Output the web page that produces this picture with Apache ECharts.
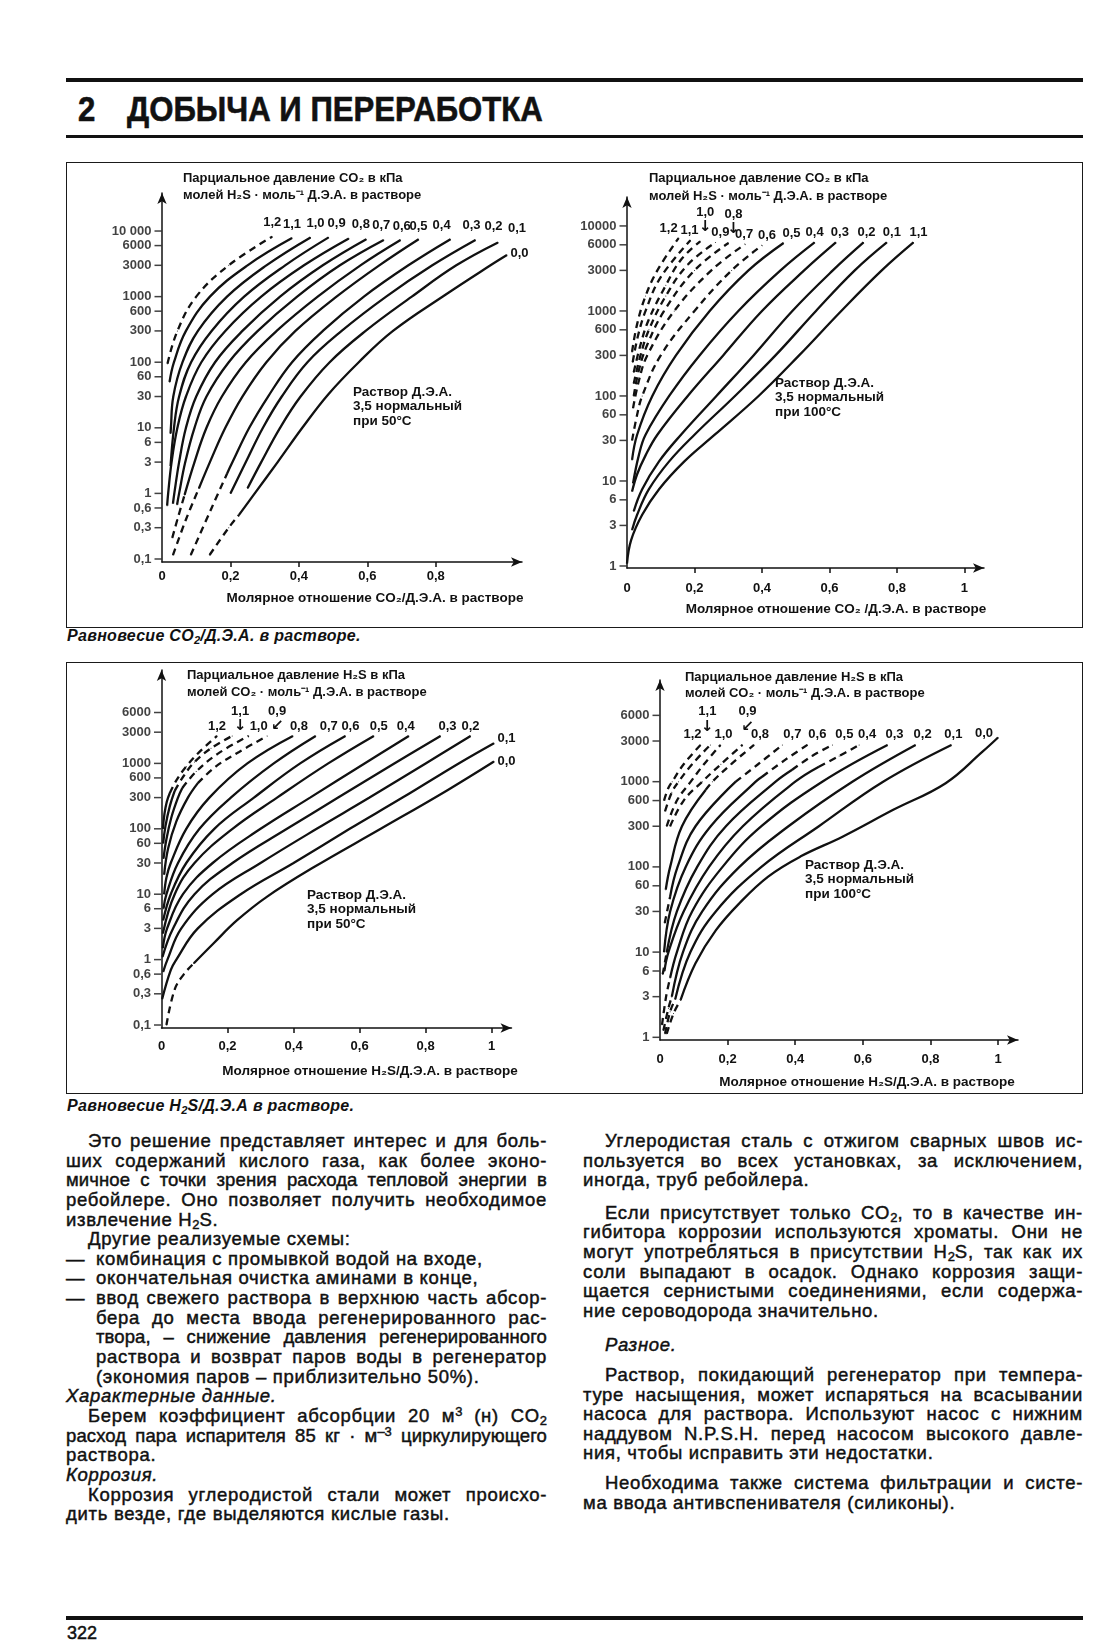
<!DOCTYPE html>
<html lang="ru">
<head>
<meta charset="utf-8">
<title>Равновесие CO2/Д.Э.А. и H2S/Д.Э.А. в растворе</title>
<script src="https://cdn.jsdelivr.net/npm/echarts@6.0.0/dist/echarts.min.js"></script>
<style>
html,body{margin:0;padding:0;background:#fff;}
#page{position:relative;width:1120px;height:1646px;overflow:hidden;background:#fff;color:#111;font-family:"Liberation Sans",Arial,Helvetica,sans-serif;}
.rule{position:absolute;left:66px;width:1017px;background:#111;}
.frame{position:absolute;left:66px;width:1017px;border:1.5px solid #1a1a1a;box-sizing:border-box;}
.hd{position:absolute;top:90px;font-weight:bold;font-size:35px;line-height:38px;transform:scaleX(0.89);transform-origin:0 0;white-space:nowrap;-webkit-text-stroke:0.6px #111;}
.cap{position:absolute;left:67px;font-weight:bold;font-style:italic;font-size:16px;letter-spacing:0.3px;line-height:16px;white-space:nowrap;}
.col{position:absolute;top:1131px;font-size:18.5px;letter-spacing:0.7px;line-height:19.65px;-webkit-text-stroke:0.45px #111;}
.col > div{height:19.65px;overflow:visible;}
.j{text-align:justify;text-align-last:justify;}
.i{padding-left:22px;}
.h{padding-left:30px;}
.it{font-style:italic;}
.tight{letter-spacing:0.1px;}
.dash{display:inline-block;width:30px;letter-spacing:0;}
sub{font-size:0.7em;vertical-align:-0.25em;line-height:0;letter-spacing:0;}
sup{font-size:0.7em;vertical-align:0.5em;line-height:0;letter-spacing:0;}
.pg{position:absolute;left:67px;top:1624px;font-size:18px;line-height:18px;-webkit-text-stroke:0.5px #111;}
#chart{position:absolute;left:0;top:0;width:1120px;height:1646px;}
</style>
</head>
<body>
<div id="page">
  <div class="rule" style="top:78px;height:4px;"></div>
  <div class="hd" style="left:78px;">2</div>
  <div class="hd" style="left:127px;">ДОБЫЧА И ПЕРЕРАБОТКА</div>
  <div class="rule" style="top:135px;height:3px;"></div>

  <div class="frame" style="top:162px;height:466px;"></div>
  <div class="cap" style="top:628px;">Равновесие CO<sub>2</sub>/Д.Э.А. в растворе.</div>
  <div class="frame" style="top:662px;height:432px;"></div>
  <div class="cap" style="top:1098px;">Равновесие H<sub>2</sub>S/Д.Э.А в растворе.</div>

  <div class="col" style="left:66px;width:481px;">
    <div class="j i">Это решение представляет интерес и для боль-</div>
    <div class="j">ших содержаний кислого газа, как более эконо-</div>
    <div class="j tight">мичное с точки зрения расхода тепловой энергии в</div>
    <div class="j">ребойлере. Оно позволяет получить необходимое</div>
    <div>извлечение H<sub>2</sub>S.</div>
    <div class="i">Другие реализуемые схемы:</div>
    <div><span class="dash">—</span>комбинация с промывкой водой на входе,</div>
    <div><span class="dash">—</span>окончательная очистка аминами в конце,</div>
    <div class="j"><span class="dash">—</span>ввод свежего раствора в верхнюю часть абсор-</div>
    <div class="j h">бера до места ввода регенерированного рас-</div>
    <div class="j h tight">твора, – снижение давления регенерированного</div>
    <div class="j h">раствора и возврат паров воды в регенератор</div>
    <div class="h">(экономия паров – приблизительно 50%).</div>
    <div class="it">Характерные данные.</div>
    <div class="j i">Берем коэффициент абсорбции 20 м<sup>3</sup> (н) CO<sub>2</sub></div>
    <div class="j tight">расход пара испарителя 85 кг · м<sup>–3</sup> циркулирующего</div>
    <div>раствора.</div>
    <div class="it">Коррозия.</div>
    <div class="j i">Коррозия углеродистой стали может происхо-</div>
    <div>дить везде, где выделяются кислые газы.</div>
  </div>

  <div class="col" style="left:583px;width:500px;">
    <div class="j i">Углеродистая сталь с отжигом сварных швов ис-</div>
    <div class="j">пользуется во всех установках, за исключением,</div>
    <div>иногда, труб ребойлера.</div>
    <div class="j i" style="margin-top:12.8px;">Если присутствует только CO<sub>2</sub>, то в качестве ин-</div>
    <div class="j">гибитора коррозии используются хроматы. Они не</div>
    <div class="j">могут употребляться в присутствии H<sub>2</sub>S, так как их</div>
    <div class="j">соли выпадают в осадок. Однако коррозия защи-</div>
    <div class="j">щается сернистыми соединениями, если содержа-</div>
    <div>ние сероводорода значительно.</div>
    <div class="it i" style="margin-top:14px;">Разное.</div>
    <div class="j i" style="margin-top:10.7px;">Раствор, покидающий регенератор при темпера-</div>
    <div class="j">туре насыщения, может испаряться на всасывании</div>
    <div class="j">насоса для раствора. Используют насос с нижним</div>
    <div class="j">наддувом N.P.S.H. перед насосом высокого давле-</div>
    <div>ния, чтобы исправить эти недостатки.</div>
    <div class="j i" style="margin-top:10.4px;">Необходима также система фильтрации и систе-</div>
    <div>ма ввода антивспенивателя (силиконы).</div>
  </div>

  <div class="rule" style="top:1616px;height:4px;"></div>
  <div class="pg">322</div>

  <div id="chart"></div>
</div>

<script>
// ---------------- DATA ----------------
// Curve parameter labels (moles of the other acid gas per mole of DEA)
const tlCurveLabels = ['1,2','1,1','1,0','0,9','0,8','0,7','0,6','0,5','0,4','0,3','0,2','0,1','0,0'];
const trCurveLabels = ['1,2','1,1','1,0','0,9','0,8','0,7','0,6','0,5','0,4','0,3','0,2','0,1','1,1'];
const blCurveLabels = ['1,2','1,1','1,0','0,9','0,8','0,7','0,6','0,5','0,4','0,3','0,2','0,1','0,0'];
const brCurveLabels = ['1,2','1,1','1,0','0,9','0,8','0,7','0,6','0,5','0,4','0,3','0,2','0,1','0,0'];

// Tick values
const tlYTicks = [0.1,0.3,0.6,1,3,6,10,30,60,100,300,600,1000,3000,6000,10000];
const trYTicks = [1,3,6,10,30,60,100,300,600,1000,3000,6000,10000];
const blYTicks = [0.1,0.3,0.6,1,3,6,10,30,60,100,300,600,1000,3000,6000];
const brYTicks = [1,3,6,10,30,60,100,300,600,1000,3000,6000];
const tlXTicks = [0,0.2,0.4,0.6,0.8];
const trXTicks = [0,0.2,0.4,0.6,0.8,1];
const blXTicks = [0,0.2,0.4,0.6,0.8,1];
const brXTicks = [0,0.2,0.4,0.6,0.8,1];

// Top-left: CO2 partial pressure (kPa) vs CO2/DEA, 50 °C  — [ratio, kPa]
const tlSolid = [
  null,
  [[0.022,50],[0.035,100],[0.07,300],[0.14,1000],[0.25,3000],[0.38,7800]],
  [[0.025,8.2],[0.026,10],[0.033,30],[0.06,100],[0.105,300],[0.19,1000],[0.305,3000],[0.434,8000]],
  [[0.025,2.6],[0.035,10],[0.05,30],[0.085,100],[0.145,300],[0.24,1000],[0.36,3000],[0.487,8000]],
  [[0.015,0.65],[0.018,1],[0.028,3],[0.045,10],[0.07,30],[0.115,100],[0.185,300],[0.29,1000],[0.415,3000],[0.546,7700]],
  [[0.032,0.7],[0.036,1],[0.05,3],[0.07,10],[0.1,30],[0.155,100],[0.235,300],[0.345,1000],[0.47,3000],[0.597,7500]],
  [[0.044,0.67],[0.05,1],[0.068,3],[0.095,10],[0.13,30],[0.195,100],[0.28,300],[0.395,1000],[0.52,3000],[0.648,7300]],
  [[0.066,0.95],[0.095,3],[0.13,10],[0.175,30],[0.245,100],[0.335,300],[0.455,1000],[0.58,3000],[0.697,7300]],
  [[0.108,1.2],[0.14,3],[0.185,10],[0.235,30],[0.305,100],[0.39,300],[0.51,1000],[0.635,3000],[0.75,7500]],
  [[0.19,2],[0.206,3],[0.255,10],[0.31,30],[0.38,100],[0.47,300],[0.59,1000],[0.72,3000],[0.843,7500]],
  [[0.2,1],[0.245,3],[0.295,10],[0.35,30],[0.425,100],[0.525,300],[0.655,1000],[0.79,3000],[0.916,7300]],
  [[0.25,1.2],[0.29,3],[0.345,10],[0.405,30],[0.49,100],[0.595,300],[0.73,1000],[0.86,3000],[0.982,6700]],
  [[0.225,0.47],[0.271,1],[0.338,3],[0.41,10],[0.485,32],[0.575,100],[0.675,300],[0.825,1040],[0.96,3000],[1.008,4300]]
];
const tlDashed = [
  [[0.016,95],[0.045,300],[0.1,1000],[0.195,3000],[0.322,8200]],
  null, null, null, null, null, null,
  [[0.03,0.21],[0.045,0.4],[0.066,0.95]],
  [[0.032,0.115],[0.07,0.4],[0.108,1.2]],
  [[0.084,0.115],[0.145,0.6],[0.19,2]],
  null, null,
  [[0.139,0.115],[0.195,0.3],[0.225,0.47]]
];

// Top-right: CO2 partial pressure (kPa) vs CO2/DEA, 100 °C
const trSolid = [
  null, null, null, null, null, null, null,
  [[0.015,17.7],[0.03,35],[0.075,100],[0.145,300],[0.245,1000],[0.36,3000],[0.464,6300]],
  [[0.018,9.4],[0.035,20],[0.055,35],[0.125,100],[0.215,300],[0.33,1000],[0.455,3000],[0.556,6400]],
  [[0.015,7.5],[0.03,12],[0.055,20],[0.09,35],[0.18,100],[0.285,300],[0.4,1000],[0.525,3000],[0.619,6400]],
  [[0.02,4.4],[0.045,8],[0.095,17],[0.16,35],[0.265,100],[0.375,300],[0.49,1000],[0.61,3000],[0.701,6400]],
  [[0.015,2.65],[0.03,4],[0.065,8],[0.125,17],[0.2,35],[0.32,100],[0.44,300],[0.56,1000],[0.675,3000],[0.77,6400]],
  [[0,1.07],[0.012,2],[0.045,4],[0.095,8],[0.17,17],[0.26,35],[0.39,100],[0.51,300],[0.635,1000],[0.755,3000],[0.849,6400]]
];
const trDashed = [
  [[0.015,330],[0.03,700],[0.055,1500],[0.09,3000],[0.153,7200]],
  [[0.017,250],[0.032,500],[0.055,1000],[0.1,2500],[0.188,6800]],
  [[0.02,190],[0.04,400],[0.065,800],[0.115,2000],[0.16,4000],[0.217,6600]],
  [[0.02,140],[0.04,300],[0.065,600],[0.115,1500],[0.18,3500],[0.262,6400]],
  [[0.02,100],[0.035,200],[0.06,400],[0.11,1000],[0.2,3000],[0.301,6300]],
  [[0.018,72],[0.035,150],[0.06,300],[0.14,1000],[0.25,3000],[0.35,6100]],
  [[0.015,30],[0.03,60],[0.045,100],[0.1,300],[0.2,1000],[0.31,3000],[0.4,5900]],
  null, null, null, null, null, null
];

// Bottom-left: H2S partial pressure (kPa) vs H2S/DEA, 50 °C
const blSolid = [
  [[0.004,100],[0.009,170],[0.016,260],[0.025,350]],
  [[0.005,60],[0.012,110],[0.025,220],[0.04,380]],
  [[0.006,35],[0.015,70],[0.03,150],[0.05,300],[0.063,420]],
  [[0.008,20],[0.02,50],[0.045,130],[0.08,300],[0.11,500]],
  [[0.008,10],[0.015,18],[0.028,30],[0.075,100],[0.145,300],[0.26,1000],[0.398,2630]],
  [[0.006,6],[0.015,10],[0.05,30],[0.115,100],[0.21,300],[0.34,1000],[0.467,2630]],
  [[0.005,4],[0.028,10],[0.075,30],[0.16,100],[0.28,300],[0.42,1000],[0.557,2630]],
  [[0.004,2.5],[0.04,10],[0.1,30],[0.215,100],[0.35,300],[0.505,1000],[0.643,2630]],
  [[0.004,1.5],[0.017,3],[0.065,10],[0.155,30],[0.3,100],[0.45,300],[0.615,1000],[0.749,2630]],
  [[0.003,1.1],[0.035,3],[0.1,10],[0.215,30],[0.38,100],[0.535,300],[0.705,1000],[0.845,2630]],
  [[0.005,0.65],[0.018,1],[0.06,3],[0.155,10],[0.3,30],[0.47,100],[0.63,300],[0.8,1000],[0.936,2630]],
  [[0.002,0.25],[0.028,0.69],[0.045,1],[0.11,3],[0.24,10],[0.4,30],[0.57,100],[0.73,300],[0.9,1000],[1.007,2040]],
  [[0.098,0.88],[0.158,1.78],[0.229,4],[0.32,9.2],[0.462,26],[0.664,100],[0.866,390],[1.007,1070]]
];
const blDashed = [
  [[0.025,350],[0.045,550],[0.075,900],[0.115,1500],[0.168,2630]],
  [[0.04,380],[0.065,620],[0.1,1050],[0.15,1700],[0.214,2630]],
  [[0.063,420],[0.105,750],[0.17,1400],[0.264,2630]],
  [[0.11,500],[0.165,900],[0.235,1500],[0.32,2630]],
  null, null, null, null, null, null, null, null,
  [[0.015,0.1],[0.04,0.35],[0.068,0.6],[0.098,0.88]]
];

// Bottom-right: H2S partial pressure (kPa) vs H2S/DEA, 100 °C
const brSolid = [
  null, null, null, null,
  [[0.017,54],[0.03,100],[0.065,300],[0.135,800]],
  [[0.03,45],[0.052,100],[0.105,300],[0.224,1000]],
  [[0.012,10],[0.03,30],[0.076,100],[0.15,300],[0.283,1000],[0.303,1150]],
  [[0.02,10],[0.05,30],[0.11,100],[0.195,300],[0.342,1000],[0.391,1380]],
  [[0.013,6],[0.025,10],[0.07,30],[0.145,100],[0.245,300],[0.4,1000],[0.47,1500]],
  [[0.03,5],[0.05,10],[0.095,30],[0.185,100],[0.3,300],[0.48,1000],[0.673,2700]],
  [[0.035,3],[0.068,10],[0.125,30],[0.235,100],[0.38,300],[0.569,1000],[0.756,2700]],
  [[0.045,2.8],[0.09,10],[0.165,30],[0.3,100],[0.47,300],[0.66,1000],[0.862,2700]],
  [[0.061,2.75],[0.105,7.4],[0.165,18],[0.235,37.5],[0.32,77],[0.415,132],[0.54,226],[0.69,467],[0.845,960],[0.954,2250],[1.0,3300]]
];
const brDashed = [
  [[0.012,600],[0.025,850],[0.036,1000],[0.07,1600],[0.12,2700]],
  [[0.015,450],[0.035,750],[0.055,1000],[0.095,1600],[0.149,2700]],
  [[0.02,300],[0.05,600],[0.091,1000],[0.13,1600],[0.179,2700]],
  [[0.03,300],[0.07,600],[0.125,1000],[0.18,1600],[0.244,2700]],
  [[0.135,800],[0.155,1000],[0.21,1600],[0.278,2700]],
  [[0.014,22],[0.03,45],null,[0.224,1000],[0.29,1600],[0.362,2700]],
  [[0.303,1150],[0.37,1800],[0.436,2700]],
  [[0.008,5.5],[0.02,10],null,[0.391,1380],[0.45,2000],[0.51,2700]],
  [[0.47,1500],[0.53,2000],[0.589,2700]],
  [[0.006,1.4],[0.018,3],[0.03,5]],
  [[0.01,1.2],[0.025,2.2],[0.035,3]],
  [[0.015,1.1],[0.03,2],[0.045,2.8]],
  [[0.02,1.1],[0.04,1.9],[0.061,2.75]]
];

// ---------------- STYLE ----------------
const FONT = '"Liberation Sans", Arial, Helvetica, sans-serif';
const INK = '#111';

const tlLabelStyle = [{dx:0},{dx:0},{dx:5},{dx:8},{dx:12},{dx:15},{dx:18},{dx:18},{dx:23},{dx:21},{dx:18},{dx:19},{pos:'right',dy:-2}];
const trLabelStyle = [{dx:-10},{dx:-1},{arrow:'↓',dx:5,dy:-6},{dx:5},{arrow:'↓',dx:5,dy:-6},{dx:-1},{dx:5},{dx:8},{dx:0},{dx:4},{dx:3},{dx:5},{dx:5}];
const blLabelStyle = [{dx:0},{arrow:'↓',dx:8,dy:-2},{dx:10},{arrow:'↙',dx:10,dy:-2},{dx:6},{dx:13},{dx:5},{dx:5},{dx:-3},{dx:7},{dx:0},{pos:'right',dy:-5},{pos:'right'}];
const brLabelStyle = [{dx:-8},{arrow:'↓',dx:-3,dy:-10},{dx:3},{arrow:'↙',dx:5,dy:-10},{dx:6},{dx:10},{dx:10},{dx:12},{dx:8},{dx:7},{dx:7},{dx:2},{dx:-14,dy:6}];

const charts = [
  {grid:{left:162,top:193,width:360,height:369}, xMax:1.052, yMin:0.09, yMax:38000, xMargin:8, labelDist:7,
   names:tlCurveLabels, solid:tlSolid, dashed:tlDashed, yTicks:tlYTicks, xTicks:tlXTicks, lab:tlLabelStyle, spaced:true},
  {grid:{left:627,top:197,width:357,height:371}, xMax:1.058, yMin:0.947, yMax:21900, xMargin:14, labelDist:3,
   names:trCurveLabels, solid:trSolid, dashed:trDashed, yTicks:trYTicks, xTicks:trXTicks, lab:trLabelStyle, spaced:false},
  {grid:{left:161.5,top:670,width:350,height:358}, xMax:1.06, yMin:0.09, yMax:26800, xMargin:12, labelDist:3,
   names:blCurveLabels, solid:blSolid, dashed:blDashed, yTicks:blYTicks, xTicks:blXTicks, lab:blLabelStyle, spaced:false},
  {grid:{left:660,top:680,width:358,height:360}, xMax:1.059, yMin:0.93, yMax:15600, xMargin:13, labelDist:3,
   names:brCurveLabels, solid:brSolid, dashed:brDashed, yTicks:brYTicks, xTicks:brXTicks, lab:brLabelStyle, spaced:false}
];

function fmtNum(v, spaced) {
  let s = String(v).replace('.', ',');
  if (spaced && v >= 10000) s = s.slice(0, s.length - 3) + ' ' + s.slice(s.length - 3);
  return s;
}
function splitSegs(arr) {
  const out = []; let cur = [];
  arr.forEach(p => { if (p === null) { if (cur.length) out.push(cur); cur = []; } else cur.push(p); });
  if (cur.length) out.push(cur);
  return out;
}
function makeLabel(text, st, dist) {
  const base = {show:true, color:INK, fontFamily:FONT, fontWeight:'bold', fontSize:13};
  if (st.pos === 'right') {
    return Object.assign(base, {formatter:() => text, position:'right', distance:3, offset:[0, st.dy || 0]});
  }
  if (st.arrow) {
    return Object.assign(base, {
      formatter:() => '{nm|' + text + '}\n{ar|' + st.arrow + '}',
      position:'top', distance:0, offset:[st.dx || 0, st.dy || 0],
      rich:{
        nm:{fontSize:13, fontWeight:'bold', fontFamily:FONT, color:INK, lineHeight:15},
        ar:{fontSize:15, fontFamily:'"DejaVu Sans", sans-serif', color:INK, lineHeight:15}
      }
    });
  }
  return Object.assign(base, {formatter:() => text, position:'top', distance:dist, offset:[st.dx || 0, st.dy || 0]});
}

const grid = [], xAxis = [], yAxis = [], series = [];
charts.forEach((c, k) => {
  grid.push(Object.assign({containLabel:false}, c.grid));
  xAxis.push({
    type:'value', gridIndex:k, min:0, max:c.xMax,
    axisLine:{show:true, onZero:false, symbol:['none','arrow'], symbolSize:[7,11], lineStyle:{color:INK, width:1.5}},
    axisTick:{show:true, length:5, lineStyle:{color:INK, width:1.5}, customValues:c.xTicks.filter(v => v > 0)},
    axisLabel:{show:true, customValues:c.xTicks, formatter:v => fmtNum(v, false), margin:c.xMargin,
               color:INK, fontFamily:FONT, fontWeight:'bold', fontSize:13},
    splitLine:{show:false}
  });
  yAxis.push({
    type:'log', logBase:10, gridIndex:k, min:c.yMin, max:c.yMax,
    axisLine:{show:true, onZero:false, symbol:['none','arrow'], symbolSize:[7,11], lineStyle:{color:INK, width:1.5}},
    axisTick:{show:false}, axisLabel:{show:false}, splitLine:{show:false},
    minorTick:{show:false}, minorSplitLine:{show:false}
  });
  // y-axis tick marks and labels at the chart's own (non-decade) tick values
  series.push({
    type:'scatter', xAxisIndex:k, yAxisIndex:k, silent:true, clip:false, animation:false, z:4,
    data:c.yTicks.map(v => [0, v]),
    symbol:'rect', symbolSize:[7,1.5], symbolOffset:[-4,0], itemStyle:{color:INK},
    label:{show:true, position:'left', distance:3, formatter:p => fmtNum(p.value[1], c.spaced),
           color:INK, fontFamily:FONT, fontWeight:'bold', fontSize:13}
  });
  // curves
  c.names.forEach((name, i) => {
    const segs = [];
    if (c.solid[i]) splitSegs(c.solid[i]).forEach(s => segs.push({pts:s, dashed:false}));
    if (c.dashed[i]) splitSegs(c.dashed[i]).forEach(s => segs.push({pts:s, dashed:true}));
    let top = 0;
    segs.forEach((s, q) => {
      const a = s.pts[s.pts.length - 1][1], b = segs[top].pts[segs[top].pts.length - 1][1];
      if (a > b) top = q;
    });
    segs.forEach((s, q) => {
      const data = s.pts.map((p, j) =>
        (q === top && j === s.pts.length - 1) ? {value:p, label:makeLabel(name, c.lab[i], c.labelDist)} : p);
      series.push({
        type:'line', name:name, xAxisIndex:k, yAxisIndex:k, data:data,
        smooth:0.4, symbol:'circle', symbolSize:1, showSymbol:true, showAllSymbol:true,
        lineStyle:{color:INK, width:2.3, type:s.dashed ? [7,5] : 'solid', cap:'butt'},
        itemStyle:{color:INK}, label:{show:false}, silent:true, animation:false, clip:false, z:3
      });
    });
  });
});

function T(left, top, text, size, lh) {
  return {type:'text', left:left, top:top, silent:true,
          style:{text:text, fill:INK, fontFamily:FONT, fontWeight:'bold', fontSize:size || 13, lineHeight:lh || 15}};
}
function C(x, y, text) {
  return {type:'text', x:x, y:y, silent:true,
          style:{text:text, fill:INK, fontFamily:FONT, fontWeight:'bold', fontSize:13.5, align:'center', verticalAlign:'middle'}};
}
const graphics = [
  T(183,171,'Парциальное давление CO₂ в кПа'),
  T(183,188,'молей H₂S · моль⁻¹ Д.Э.А. в растворе'),
  T(353,385,'Раствор Д.Э.А.\n3,5 нормальный\nпри 50°C', 13.5, 14.5),
  C(375,598,'Молярное отношение CO₂/Д.Э.А. в растворе'),

  T(649,171,'Парциальное давление CO₂ в кПа'),
  T(649,189,'молей H₂S · моль⁻¹ Д.Э.А. в растворе'),
  T(775,376,'Раствор Д.Э.А.\n3,5 нормальный\nпри 100°C', 13.5, 14.5),
  C(836,609,'Молярное отношение CO₂ /Д.Э.А. в растворе'),

  T(187,668,'Парциальное давление H₂S в кПа'),
  T(187,685,'молей CO₂ · моль⁻¹ Д.Э.А. в растворе'),
  T(307,888,'Раствор Д.Э.А.\n3,5 нормальный\nпри 50°C', 13.5, 14.5),
  C(370,1071,'Молярное отношение H₂S/Д.Э.А. в растворе'),

  T(685,670,'Парциальное давление H₂S в кПа'),
  T(685,686,'молей CO₂ · моль⁻¹ Д.Э.А. в растворе'),
  T(805,858,'Раствор Д.Э.А.\n3,5 нормальный\nпри 100°C', 13.5, 14.5),
  C(867,1082,'Молярное отношение H₂S/Д.Э.А. в растворе')
];

const chart = echarts.init(document.getElementById('chart'), null, {renderer:'canvas'});
chart.setOption({
  animation:false,
  backgroundColor:'transparent',
  textStyle:{fontFamily:FONT},
  grid:grid, xAxis:xAxis, yAxis:yAxis, series:series,
  graphic:{elements:graphics}
});
</script>
</body>
</html>
